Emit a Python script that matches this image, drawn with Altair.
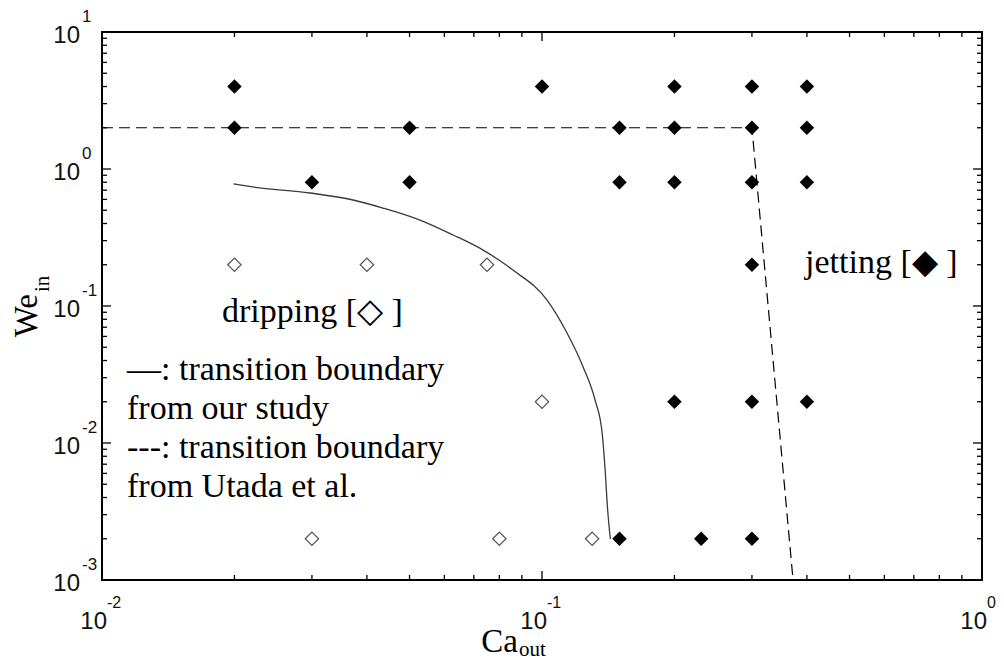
import altair as alt
import pandas as pd

# ---- data ----
jet_ca = [0.02, 0.1, 0.2, 0.3, 0.4,
          0.02, 0.05, 0.15, 0.2, 0.3, 0.4,
          0.03, 0.05, 0.15, 0.2, 0.3, 0.4,
          0.3,
          0.2, 0.3, 0.4,
          0.15, 0.23, 0.3]
jet_we = [4, 4, 4, 4, 4,
          2, 2, 2, 2, 2, 2,
          0.8, 0.8, 0.8, 0.8, 0.8, 0.8,
          0.2,
          0.02, 0.02, 0.02,
          0.002, 0.002, 0.002]

drip_ca = [0.02, 0.04, 0.075, 0.1, 0.03, 0.08, 0.13]
drip_we = [0.2, 0.2, 0.2, 0.02, 0.002, 0.002, 0.002]

curve_ca = [0.0199, 0.0220, 0.0297, 0.0372, 0.0435, 0.0528, 0.0628, 0.0735, 0.0859,
            0.1026, 0.114, 0.124, 0.132, 0.137, 0.139, 0.141, 0.143]
curve_we = [0.778, 0.740, 0.668, 0.594, 0.519, 0.424, 0.330, 0.256, 0.183,
            0.111, 0.0635, 0.0359, 0.0206, 0.0118, 0.00668, 0.00324, 0.00199]

utada_ca = [0.01, 0.3, 0.372]
utada_we = [2, 2, 0.001]

x_major = [0.01, 0.1, 1]
x_major_exp = ["-2", "-1", "0"]
y_major = [0.001, 0.01, 0.1, 1, 10]
y_major_exp = ["-3", "-2", "-1", "0", "1"]
x_minor = [m * 10.0 ** e for e in (-2, -1) for m in range(2, 10)]
y_minor = [m * 10.0 ** e for e in (-3, -2, -1, 0) for m in range(2, 10)]

W, H = 880, 548
SERIF = "Liberation Serif"
SANS = "Liberation Sans"

xs = alt.Scale(type="log", domain=[0.01, 1], nice=False)
ys = alt.Scale(type="log", domain=[0.001, 10], nice=False)

jet = pd.DataFrame({"ca": jet_ca, "we": jet_we})
drip = pd.DataFrame({"ca": drip_ca, "we": drip_we})
curve = pd.DataFrame({"ca": curve_ca, "we": curve_we, "i": list(range(len(curve_ca)))})
utada = pd.DataFrame({"ca": utada_ca, "we": utada_we, "i": list(range(len(utada_ca)))})

X = alt.X("ca:Q", scale=xs, axis=None)
Y = alt.Y("we:Q", scale=ys, axis=None)

layers = []

layers.append(alt.Chart(curve).mark_line(color="#3a3a3a", strokeWidth=1.3, interpolate="monotone").encode(
    x=X, y=Y, order="i:Q"))
layers.append(alt.Chart(utada).mark_line(color="black", strokeWidth=1.2, strokeDash=[11, 6]).encode(
    x=X, y=Y, order="i:Q"))
layers.append(alt.Chart(jet).mark_point(shape="diamond", filled=True, color="black", size=210, opacity=1).encode(
    x=X, y=Y))
layers.append(alt.Chart(drip).mark_point(shape="diamond", filled=False, color="#555555", strokeWidth=1.2,
                                         size=180, opacity=1).encode(x=X, y=Y))

# inward ticks on all four sides
def vticks(vals, length, side):
    df = pd.DataFrame({"v": vals})
    if side == "left":
        return alt.Chart(df).mark_rule(color="black", strokeWidth=1.3).encode(
            y=alt.Y("v:Q", scale=ys, axis=None), x=alt.value(0), x2=alt.value(length))
    return alt.Chart(df).mark_rule(color="black", strokeWidth=1.3).encode(
        y=alt.Y("v:Q", scale=ys, axis=None), x=alt.value(W), x2=alt.value(W - length))

def hticks(vals, length, side):
    df = pd.DataFrame({"v": vals})
    if side == "bottom":
        return alt.Chart(df).mark_rule(color="black", strokeWidth=1.3).encode(
            x=alt.X("v:Q", scale=xs, axis=None), y=alt.value(H), y2=alt.value(H - length))
    return alt.Chart(df).mark_rule(color="black", strokeWidth=1.3).encode(
        x=alt.X("v:Q", scale=xs, axis=None), y=alt.value(0), y2=alt.value(length))

for side in ("left", "right"):
    layers.append(vticks(y_major, 9, side))
    layers.append(vticks(y_minor, 5, side))
for side in ("bottom", "top"):
    layers.append(hticks(x_major, 9, side))
    layers.append(hticks(x_minor, 5, side))

# tick labels 10^k
ylab = pd.DataFrame({"v": y_major, "e": y_major_exp})
xlab = pd.DataFrame({"v": x_major, "e": x_major_exp})
layers.append(alt.Chart(ylab).mark_text(font=SANS, fontSize=24, align="right", baseline="middle", dy=4,
                                        text="10", color="#111").encode(
    y=alt.Y("v:Q", scale=ys, axis=None), x=alt.value(-22)))
layers.append(alt.Chart(ylab).mark_text(font=SANS, fontSize=17, align="left", baseline="middle", dy=-15,
                                        color="#111").encode(
    y=alt.Y("v:Q", scale=ys, axis=None), x=alt.value(-20), text="e:N"))
layers.append(alt.Chart(xlab).mark_text(font=SANS, fontSize=24, align="right", baseline="middle", dx=5,
                                        text="10", color="#111").encode(
    x=alt.X("v:Q", scale=xs, axis=None), y=alt.value(H + 42)))
layers.append(alt.Chart(xlab).mark_text(font=SANS, fontSize=16, align="left", baseline="middle", dx=5,
                                        color="#111").encode(
    x=alt.X("v:Q", scale=xs, axis=None), y=alt.value(H + 23), text="e:N"))

one = pd.DataFrame({"k": [0]})

def label(txt, x, y, size, align="left", baseline="alphabetic", angle=0, font=SERIF):
    kw = dict(font=font, fontSize=size, align=align, baseline=baseline, text=txt, color="black")
    if angle:
        kw["angle"] = angle
    return alt.Chart(one).mark_text(**kw).encode(x=alt.value(x), y=alt.value(y))

# axis titles
layers.append(label("Ca", 416, H + 72, 33, align="right"))
layers.append(label("out", 417, H + 76, 21, align="left"))
layers.append(label("We", -75, 262, 33, align="right", baseline="middle", angle=270))
layers.append(label("in", -59, 260, 21, align="left", baseline="middle", angle=270))

# annotations
layers.append(label("dripping [\u25C7 ]", 120, 290, 34))
layers.append(label("jetting [\u25C6 ]", 703, 241, 34))
layers.append(label("\u2014: transition boundary", 25, 348, 34))
layers.append(label("from our study", 25, 387, 34))
layers.append(label("---: transition boundary", 25, 426, 34))
layers.append(label("from Utada et al.", 25, 465, 34))

chart = alt.layer(*layers).properties(
    width=W, height=H,
    autosize=alt.AutoSizeParams(type="none"),
    padding={"left": 94, "top": 24, "right": 14, "bottom": 83},
    background="white",
).configure_view(stroke="black", strokeWidth=2)

chart.save("out.html", embed_options={"renderer": "svg", "actions": False})
